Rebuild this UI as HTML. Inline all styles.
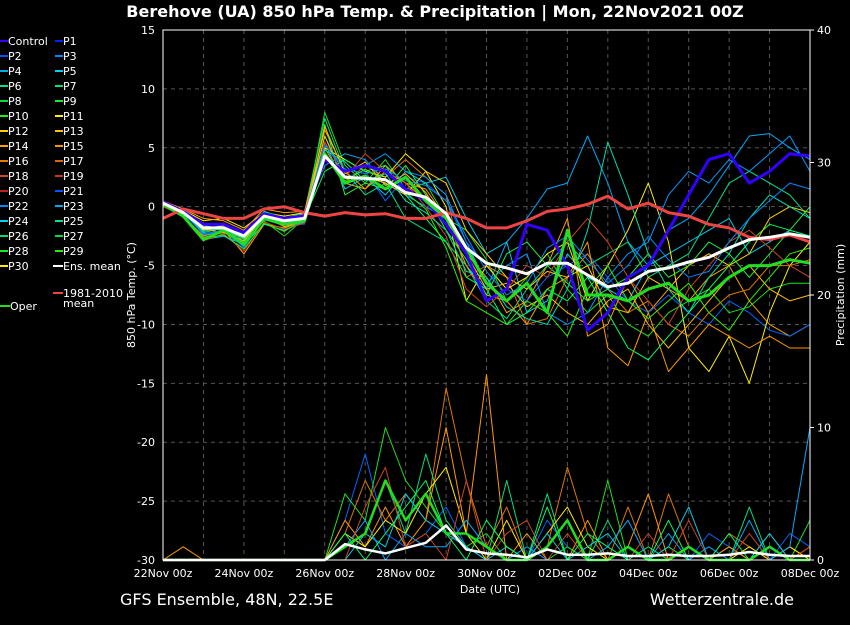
<!DOCTYPE html>
<html><head><meta charset="utf-8"><style>
body{margin:0;background:#000;width:850px;height:620px;overflow:hidden;font-family:"Liberation Sans","DejaVu Sans",sans-serif}
svg text{font-family:"DejaVu Sans","Liberation Sans",sans-serif}
</style></head><body>
<svg id="c" width="850" height="620">
<text x="435" y="17" fill="#fff" font-size="16" font-weight="bold" text-anchor="middle">Berehove  (UA)  850 hPa Temp. &amp; Precipitation | Mon, 22Nov2021 00Z</text>
<text x="120" y="605" fill="#fff" font-size="16">GFS Ensemble, 48N, 22.5E</text>
<text x="794" y="605" fill="#fff" font-size="16" text-anchor="end">Wetterzentrale.de</text>
<g id="grid"></g><g id="prec"></g><g id="temp"></g><g id="axes"></g><g id="legend"></g>
</svg>
<script>
const dates=["22Nov 00z","24Nov 00z","26Nov 00z","28Nov 00z","30Nov 00z","02Dec 00z","04Dec 00z","06Dec 00z","08Dec 00z"];
const tempTicks=[15,10,5,0,-5,-10,-15,-20,-25,-30];
const precTicks=[40,30,20,10,0];
const ensMean=[0.3,-0.5,-1.8,-1.8,-2.5,-0.8,-1.2,-1.0,4.3,2.5,2.4,2.3,1.2,0.8,-0.6,-3.5,-4.8,-5.2,-5.7,-4.8,-4.8,-5.8,-6.8,-6.5,-5.5,-5.2,-4.7,-4.3,-3.5,-2.8,-2.6,-2.3,-2.6];
const climMean=[-1,-0.2,-0.6,-1,-1,-0.2,0,-0.5,-0.8,-0.5,-0.7,-0.6,-1,-1,-0.5,-1,-1.8,-1.8,-1.2,-0.4,-0.2,0.2,0.9,-0.2,0.3,-0.5,-0.8,-1.5,-1.8,-2.6,-2.8,-2.4,-3];
const oper=[0.2,-0.8,-2.8,-2.0,-3.2,-1.0,-1.5,-1.2,4.5,2.0,2.6,1.5,2.5,0.5,-1.0,-3.5,-6.5,-8.0,-6.5,-9.0,-2.0,-7.5,-7.5,-8.0,-7.0,-6.5,-8.0,-7.5,-6.0,-5.0,-5.0,-4.5,-4.8];
const control=[0.4,-0.4,-1.5,-1.5,-2.2,-0.6,-1.0,-0.8,4.0,3.0,3.5,3.0,1.5,0.5,-1.5,-4.0,-8.0,-7.0,-1.5,-2.0,-5.0,-10.5,-9.0,-6.0,-5.0,-2.0,1.0,4.0,4.5,2.0,3.0,4.5,4.3];
const members=[
[0.5,-0.3,-2.0,-1.5,-3.0,-0.5,-1.5,-0.5,3.5,4.5,4.0,2.0,1.0,0.0,-1.0,-5.0,-7.0,-3.0,-1.0,1.5,2.0,6.0,2.0,-3.0,-5.0,-2.0,-1.0,1.0,3.5,6.0,6.2,5.0,4.0],
[0.3,-0.8,-2.5,-2.0,-4.0,-1.5,-1.8,-1.2,5.0,2.0,1.5,3.5,2.0,0.5,-1.0,-4.0,-6.0,-9.0,-8.0,-5.0,-1.0,-11.0,-10.0,-6.0,-9.0,-7.0,-8.0,-6.0,-5.0,-8.0,-10.0,-11.0,-10.0],
[0.1,-0.5,-1.5,-2.5,-3.5,-1.0,-1.5,-1.5,6.0,2.5,3.0,0.5,2.5,2.0,0.5,-3.0,-5.0,-7.0,-8.0,-6.0,-5.0,-4.0,-6.0,-8.0,-9.0,-7.5,-9.0,-10.0,-8.0,-9.0,-10.5,-11.0,-10.0],
[0.2,-0.6,-2.2,-1.8,-2.8,-0.8,-1.0,-0.5,7.5,3.0,1.0,2.0,-1.0,-2.0,-3.0,-5.0,-8.0,-9.5,-7.0,-5.0,-3.0,-5.0,-4.0,-3.0,-6.0,-5.0,-4.0,-1.0,2.0,3.0,2.0,1.0,-1.0],
[0.0,-0.4,-1.8,-2.0,-3.0,-1.2,-2.5,-1.0,8.0,3.5,2.0,4.0,1.5,2.0,-1.0,-2.0,-4.5,-8.0,-6.0,-4.0,-7.0,-9.0,-7.5,-10.0,-11.0,-9.0,-8.0,-7.0,-9.0,-8.5,-7.0,-6.5,-6.5],
[0.4,-0.7,-2.6,-2.2,-2.6,-1.0,-1.2,-0.6,4.5,2.0,3.5,2.5,4.0,2.5,1.0,-6.0,-5.0,-6.0,-10.0,-9.5,-6.0,-4.0,-7.0,-9.0,-8.0,-10.0,-11.0,-9.0,-7.5,-7.0,-5.0,-5.0,-4.5],
[0.3,-0.9,-2.8,-2.5,-3.2,-1.5,-2.0,-1.3,5.5,1.5,2.5,1.0,3.0,2.0,2.5,-1.0,-4.0,-3.0,-9.0,-8.0,-4.0,-6.0,-7.0,-8.0,-5.0,-4.0,-3.0,-2.0,-1.0,-4.0,-3.0,-2.0,-2.5],
[0.2,-0.3,-1.2,-1.0,-1.8,-0.5,-0.8,-0.5,5.0,4.0,3.0,2.5,4.5,3.0,0.0,-8.0,-5.0,-7.0,-6.0,-4.0,-3.0,-8.0,-5.0,-2.0,2.0,-3.0,-12.0,-14.0,-11.0,-15.0,-9.0,-5.0,-3.0],
[0.5,-0.2,-1.0,-1.2,-2.0,-0.2,-0.5,-0.4,6.5,3.0,1.5,3.0,2.0,1.5,-1.0,-5.0,-7.5,-8.0,-10.0,-7.0,-6.0,-3.0,-12.0,-13.5,-9.0,-14.0,-12.0,-10.0,-11.0,-12.0,-11.0,-12.0,-12.0],
[0.1,-0.6,-1.5,-1.4,-2.4,-0.4,-1.0,-1.0,3.0,4.0,3.0,3.5,1.0,-1.0,-3.0,-6.0,-7.0,-10.0,-9.0,-7.0,-8.0,-6.0,-9.0,-12.0,-13.0,-11.0,-9.0,-7.0,-5.0,-3.0,-1.5,-2.0,-2.5],
[0.3,-0.5,-2.0,-1.6,-2.2,-0.7,-1.4,-0.9,6.0,2.0,2.5,2.0,1.0,3.0,2.0,-2.0,-4.0,-6.0,-7.0,-5.5,-6.0,-5.0,-8.5,-9.0,-6.0,-7.0,-5.0,-4.0,-5.0,-4.0,-1.0,0.0,-0.5],
[0.4,-0.4,-2.4,-2.1,-3.4,-1.1,-1.6,-0.7,4.0,3.0,3.5,4.5,3.0,2.5,1.0,-3.0,-6.5,-5.0,-4.0,-9.0,-10.0,-9.0,-6.0,-4.0,-3.0,1.0,3.0,2.0,4.0,3.0,4.5,6.0,3.0],
[0.2,-0.7,-1.6,-1.9,-2.7,-0.9,-1.3,-1.1,7.0,1.0,2.0,1.5,3.5,1.0,-2.0,-4.5,-7.5,-4.0,-3.0,-5.0,-6.5,-8.0,-7.0,-6.0,-4.0,-6.0,-5.0,-3.0,-4.0,-6.0,-4.0,-2.0,0.0],
[0.0,-0.8,-2.9,-2.3,-3.8,-1.3,-1.9,-1.4,5.5,2.5,4.5,3.0,2.0,0.0,-2.5,-7.0,-8.5,-7.0,-5.0,-6.0,-3.0,-1.0,-3.0,-6.0,-8.0,-10.0,-7.0,-5.0,-3.0,-2.0,-3.5,-5.0,-6.0],
[0.3,-0.6,-2.1,-1.7,-3.1,-0.6,-1.1,-0.9,4.8,3.8,2.2,2.8,0.5,-0.5,-2.0,-5.5,-6.0,-8.5,-9.5,-10.0,-7.0,-2.0,5.5,1.0,-4.0,-7.0,-9.0,-6.0,-4.0,-1.0,1.0,0.0,-1.0],
[0.2,-0.4,-1.9,-2.2,-2.9,-0.8,-1.7,-1.2,6.8,2.8,3.8,1.8,2.8,1.2,-1.5,-4.0,-7.0,-6.5,-8.5,-7.5,-9.0,-10.0,-8.0,-7.0,-10.0,-12.0,-10.0,-8.0,-6.0,-5.0,-7.0,-8.0,-7.5],
[0.4,-0.5,-2.3,-2.0,-3.3,-1.1,-1.4,-0.8,5.2,3.2,2.8,3.2,2.2,1.8,0.5,-2.5,-5.5,-7.5,-6.5,-3.5,-2.5,-4.5,-6.5,-5.0,-2.5,-4.5,-6.0,-5.5,-3.0,-1.0,0.5,2.0,1.5],
[0.1,-0.7,-2.7,-2.4,-3.6,-1.4,-2.1,-1.0,4.2,2.2,3.2,2.2,1.2,-0.2,-3.5,-8.0,-9.0,-10.0,-8.0,-9.0,-11.0,-7.0,-5.0,-8.0,-9.5,-8.0,-6.5,-9.0,-10.5,-8.0,-6.0,-4.0,-3.5]
];
const memberColors=["#00aaff","#ffa000","#0066ff","#00e080","#22dd22","#dd7700","#00ccee","#ffee00","#ff9900","#00ff66","#ffcc00","#0099ff","#22ee44","#cc4422","#00ddaa","#ffbb00","#0088ff","#33ee00"];
/* precipitation (mm per 12h) for selected members */
const precip=[
[0,0,0,0,0,0,0,0,0,3,8,2,1,2,4,1,0,0,0,3,1,0,0,0,0,1,0,2,1,0,0,2,1],
[0,0,0,0,0,0,0,0,0,2,6,3,5,3,13,6,1,4,0,1,7,2,0,4,0,5,1,0,2,1,0,1,0],
[0,0,0,0,0,0,0,0,0,5,3,10,6,4,2,1,2,0,0,0,1,0,6,0,0,1,0,0,1,0,0,0,3],
[0,0,0,0,0,0,0,0,0,1,2,6,2,8,3,1,0,6,0,5,0,0,3,0,1,0,0,0,0,4,0,0,0],
[0,1,0,0,0,0,0,0,0,3,1,4,1,3,10,2,14,0,2,0,0,3,0,1,5,0,1,0,1,0,2,0,1],
[0,0,0,0,0,0,0,0,0,2,1,3,2,5,7,2,0,3,0,2,4,1,0,1,0,0,0,0,0,1,0,1,0],
[0,0,0,0,0,0,0,0,0,0,2,1,5,3,2,1,0,1,0,2,0,1,2,0,0,1,4,0,0,0,2,0,0],
[0,0,0,0,0,0,0,0,0,1,3,0,2,1,1,3,1,0,1,0,0,0,1,3,0,2,0,1,0,3,0,1,10],
[0,0,0,0,0,0,0,0,0,0,4,7,1,2,0,6,0,2,3,0,2,0,0,0,2,0,3,0,0,2,0,0,1],
[0,0,0,0,0,0,0,0,0,2,0,2,4,6,2,0,3,1,0,4,0,2,1,0,0,3,0,0,2,0,1,0,0]
];
const precColors=["#0066ff","#dd7700","#22dd22","#00e080","#ff9900","#ffee00","#00ccee","#00aaff","#cc4422","#00ff66"];
const precMean=[0,0,0,0,0,0,0,0,0,1.2,0.8,0.5,0.9,1.3,2.6,0.8,0.5,0.4,0.2,0.8,0.4,0.4,0.5,0.3,0.3,0.4,0.3,0.3,0.4,0.6,0.4,0.3,0.3];
const precOper=[0,0,0,0,0,0,0,0,0,1,2,6,3,5,2,2,1,0,0,1,3,0,0,1,0,0,1,0,0,0,1,0,0];

const NS="http://www.w3.org/2000/svg";
const X0=163,X1=810,Y0=30,Y1=560;
const xs=d=>X0+(X1-X0)*d/16;
const yT=v=>Y0+(Y1-Y0)*(15-v)/45;
const yP=v=>Y1-(Y1-Y0)*v/40;
function el(tag,attrs,parent){const e=document.createElementNS(NS,tag);for(const k in attrs)e.setAttribute(k,attrs[k]);parent.appendChild(e);return e;}
const grid=document.getElementById('grid'),axes=document.getElementById('axes'),temp=document.getElementById('temp'),prec=document.getElementById('prec'),leg=document.getElementById('legend');
for(let d=1;d<16;d++){const l=el('line',{x1:xs(d),x2:xs(d),y1:Y0,y2:Y1,stroke:'#555','stroke-dasharray':'4,4','stroke-width':1},grid);

}
tempTicks.forEach(v=>{if(v!==15&&v!==-30){const l=el('line',{x1:X0,x2:X1,y1:yT(v),y2:yT(v),stroke:'#555','stroke-dasharray':'4,4'},grid);

}
const t=el('text',{x:X0-8,y:yT(v)+4,fill:'#fff','font-size':11,'text-anchor':'end'},axes);t.textContent=v;

});
precTicks.forEach(v=>{const t=el('text',{x:X1+7,y:yP(v)+4,fill:'#fff','font-size':11},axes);t.textContent=v;


const k=el('line',{x1:X1,x2:X1+4,y1:yP(v),y2:yP(v),stroke:'#fff'},axes);

});
dates.forEach((s,i)=>{const t=el('text',{x:xs(i*2),y:577,fill:'#fff','font-size':11,'text-anchor':'middle'},axes);t.textContent=s;

});
const fr=el('rect',{x:X0,y:Y0,width:X1-X0,height:Y1-Y0,fill:'none',stroke:'#fff'},axes);


let t=el('text',{x:490,y:593,fill:'#fff','font-size':11,'text-anchor':'middle'},axes);t.textContent='Date (UTC)';


t=el('text',{x:0,y:0,fill:'#fff','font-size':11,'text-anchor':'middle',transform:'translate(135,295) rotate(-90)'},axes);t.textContent='850 hPa Temp. (°C)';


t=el('text',{x:0,y:0,fill:'#fff','font-size':11,'text-anchor':'middle',transform:'translate(844,295) rotate(-90)'},axes);t.textContent='Precipitation (mm)';


function line(arr,yf,color,w,parent,name){const p=arr.map((v,i)=>(i?'L':'M')+xs(i/2).toFixed(1)+','+yf(v).toFixed(1)).join('');
const e=el('path',{d:p,fill:'none',stroke:color,'stroke-width':w,'stroke-linejoin':'round'},parent);

return e;}
precip.forEach((a,i)=>line(a,yP,precColors[i],1,prec,'precip-member-line'));
line(precOper,yP,'#22dd22',2.5,prec,'precip-oper-line');
line(precMean,yP,'#fff',2.5,prec,'precip-mean-line');
members.forEach((a,i)=>line(a,yT,memberColors[i],1,temp,'temp-member-line'));
line(control,yT,'#3300ff',3,temp,'temp-control-line');
line(oper,yT,'#22dd22',3,temp,'temp-oper-line');
line(climMean,yT,'#ee4444',3,temp,'climate-mean-line');
line(ensMean,yT,'#fff',3,temp,'ens-mean-line');
const legNames=["Control","P1","P2","P3","P4","P5","P6","P7","P8","P9","P10","P11","P12","P13","P14","P15","P16","P17","P18","P19","P20","P21","P22","P23","P24","P25","P26","P27","P28","P29","P30"];
const legColors=["#3300ff","#0022ff","#0055ff","#0088ff","#00aaee","#00ccee","#00dd99","#00dd77","#00dd44","#11ee22","#22ee00","#ffee00","#ffcc00","#ffbb00","#ffa000","#ff9000","#ee7700","#dd6600","#cc4422","#cc3322","#bb2222","#0055ff","#0088ff","#00aaee","#00ccee","#00dd99","#00dd77","#00dd44","#11ee22","#22ee00","#ffee00"];
legNames.forEach((n,i)=>{const col=i%2,row=Math.floor(i/2);const x=col?55:0,y=41+row*15;
const l=el('line',{x1:x,x2:x+8,y1:y,y2:y,stroke:legColors[i],'stroke-width':2},leg);


const tx=el('text',{x:x+8,y:y+4,fill:'#fff','font-size':11},leg);tx.textContent=n;

});
function extra(x,y,color,label,name){const l=el('line',{x1:x,x2:x+10,y1:y,y2:y,stroke:color,'stroke-width':2},leg);


const tx=el('text',{x:x+10,y:y+4,fill:'#fff','font-size':11},leg);tx.textContent=label;

}
extra(53,266,'#fff','Ens. mean','legend-ens-mean');
extra(53,293,'#ee4444','1981-2010','legend-climate');
t=el('text',{x:63,y:307,fill:'#fff','font-size':11},leg);t.textContent='mean';


extra(0,306,'#22dd22','Oper','legend-oper');
</script>
</body></html>
